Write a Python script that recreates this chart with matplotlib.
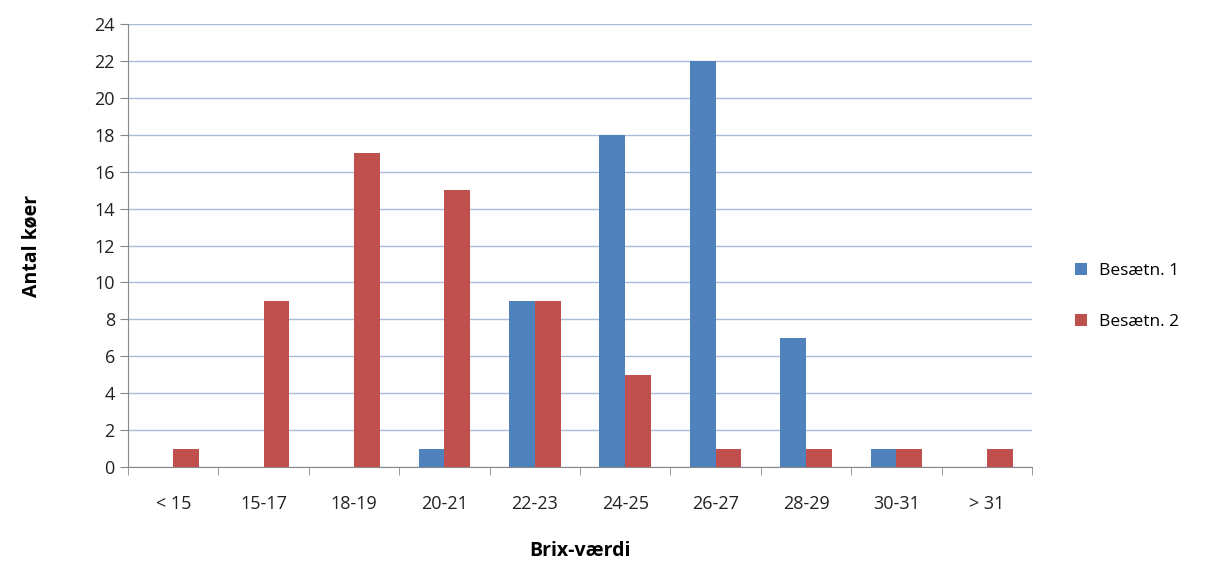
import matplotlib.pyplot as plt
import numpy as np

categories = ["< 15", "15-17", "18-19", "20-21", "22-23", "24-25", "26-27", "28-29", "30-31", "> 31"]
besaetn_1 = [0, 0, 0, 1, 9, 18, 22, 7, 1, 0]
besaetn_2 = [1, 9, 17, 15, 9, 5, 1, 1, 1, 1]

plt.rcParams['font.family'] = ['Open Sans', 'DejaVu Sans']

fig = plt.figure(figsize=(12.11, 5.72), dpi=100)
ax = fig.add_axes([0.1057, 0.1836, 0.7465, 0.7744])

x = np.arange(len(categories))
w = 0.2857
ax.bar(x - w / 2, besaetn_1, width=w, color="#4F81BD", label="Besætn. 1", zorder=3)
ax.bar(x + w / 2, besaetn_2, width=w, color="#C0504D", label="Besætn. 2", zorder=3)

ax.set_xlim(-0.5, len(categories) - 0.5)
ax.set_ylim(0, 24)
ax.set_yticks(range(0, 25, 2))
ax.yaxis.grid(True, color="#a9bcd8", linewidth=1, zorder=0)

ax.set_xticks(x)
ax.set_xticklabels(categories)
ax.set_xticks(np.arange(-0.5, len(categories)), minor=True)
ax.tick_params(axis="x", which="major", length=0, pad=20, labelsize=13, colors="#222222")
ax.tick_params(axis="x", which="minor", length=6, color="#888888", direction="out")
ax.tick_params(axis="y", length=6, color="#888888", labelsize=13, labelcolor="#222222")

for s in ["top", "right"]:
    ax.spines[s].set_visible(False)
for s in ["left", "bottom"]:
    ax.spines[s].set_color("#888888")

ax.set_ylabel("Antal køer", fontsize=14, fontweight="bold", labelpad=38)
ax.set_xlabel("Brix-værdi", fontsize=14, fontweight="bold", labelpad=20)

ax.legend(loc="center left", bbox_to_anchor=(1.03, 0.385), frameon=False,
          fontsize=12.5, handlelength=0.7, handleheight=0.7, labelspacing=2.0,
          handletextpad=0.7)

fig.savefig("out.png", dpi=100)
